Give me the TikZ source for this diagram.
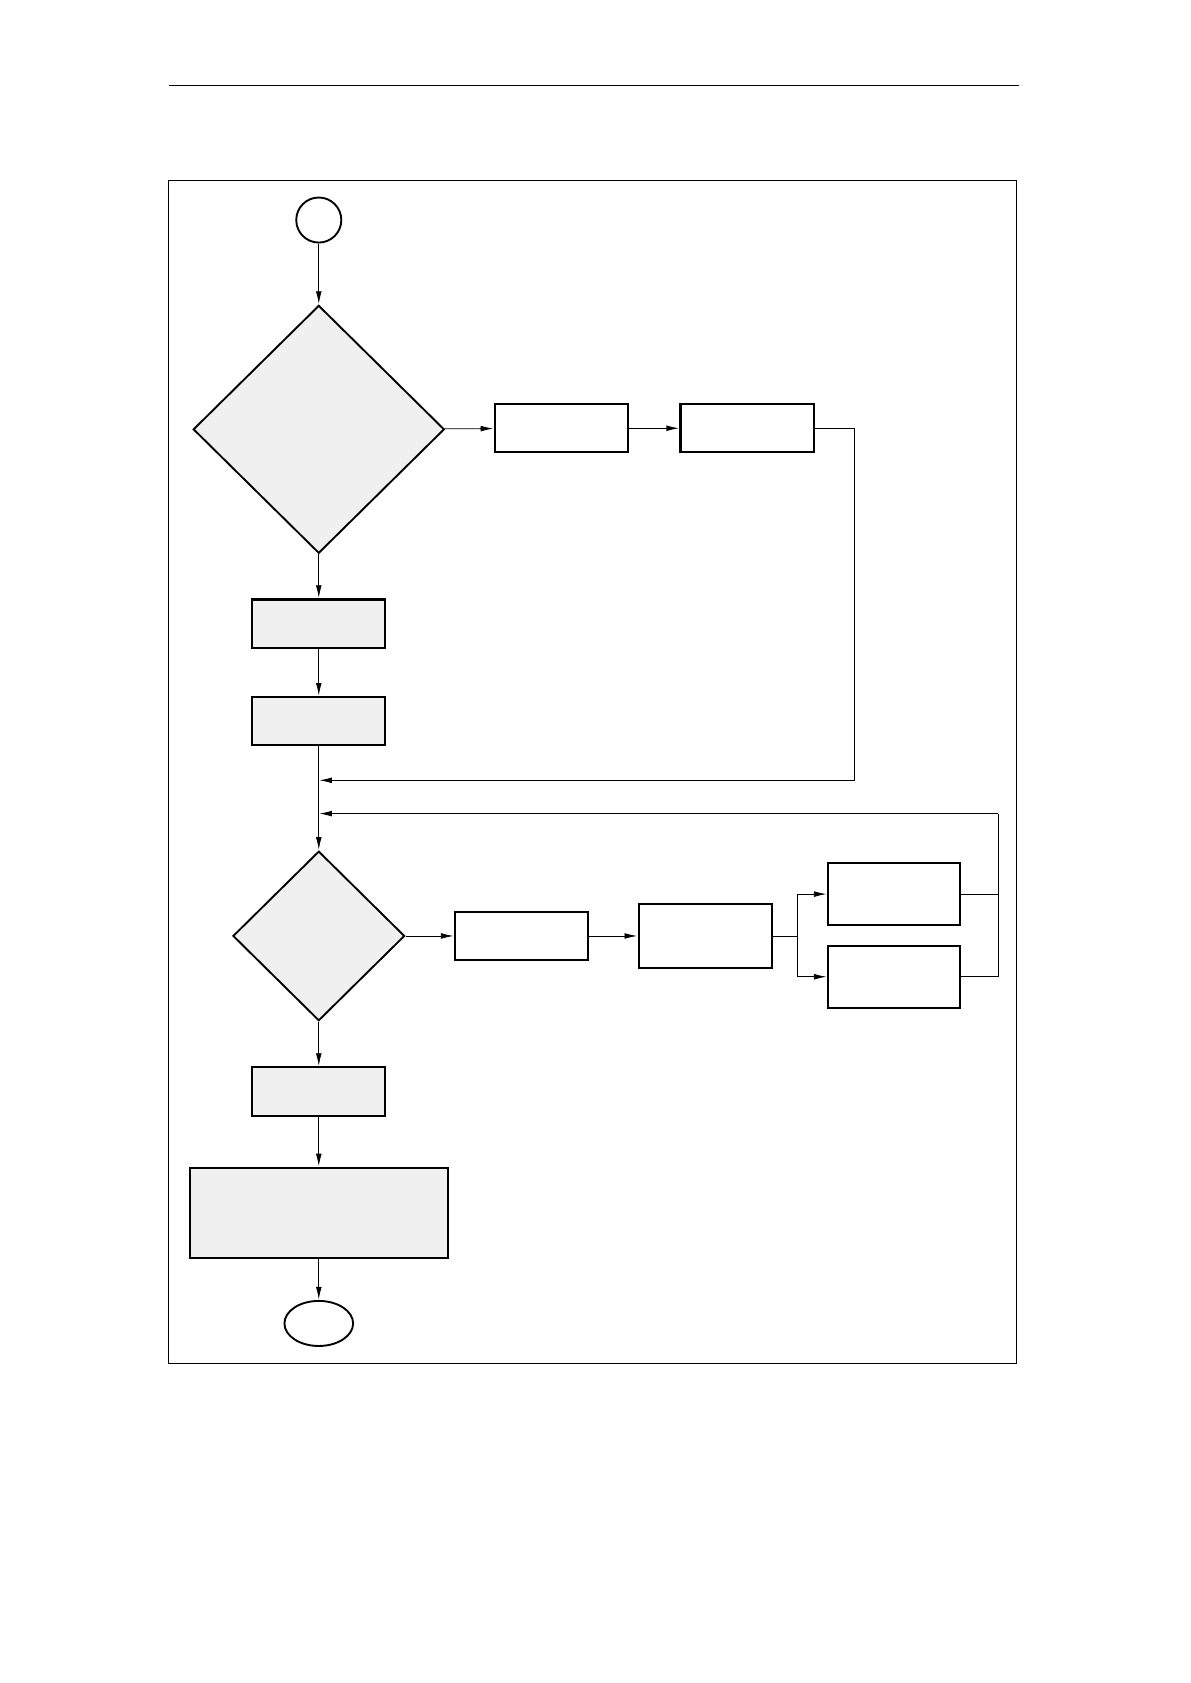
\documentclass[tikz,border=0pt]{standalone}
\usepackage{tikz}
\usetikzlibrary{
  arrows.meta,
  shapes,
  shapes.geometric,
  calc
}
\usepackage{xcolor}
\definecolor{shade}{gray}{0.94}

\begin{document}
\begin{tikzpicture}[x = 0.02cm, y = -0.02cm]
  \tikzset{>={Latex[length=7pt, width=3.2pt]}, line width = 0.5pt,
    procbox/.style = {draw, rectangle, line width = 1.1pt, fill = shade, inner sep = 0pt},
    actbox/.style = {draw, rectangle, line width = 1.1pt, fill = white, inner sep = 0pt},
    decision/.style = {draw, diamond, line width = 1pt, fill = shade, inner sep = 0pt},
    terminal/.style = {draw, ellipse, line width = 1pt, inner sep = 0pt}}
  \useasboundingbox (0,0) rectangle (1109,1568);

  \draw[line width = 0.6pt] (157,80) -- (949,80);
  \draw[line width = 0.6pt] (157,168) rectangle (947,1270);

  \node[terminal, minimum width = 0.84cm, minimum height = 0.84cm] (begin) at (297,205) {};
  \node[decision, minimum width = 4.68cm, minimum height = 4.62cm] (ask) at (297,400) {};
  \node[actbox, minimum width = 2.48cm, minimum height = 0.9cm] (setA) at (523,399) {};
  \node[actbox, minimum width = 2.48cm, minimum height = 0.9cm] (setB) at (696,399) {};
  \node[procbox, minimum width = 2.48cm, minimum height = 0.9cm] (prepA) at (297,581) {};
  \node[procbox, minimum width = 2.48cm, minimum height = 0.9cm] (prepB) at (297,672) {};

  \node[decision, minimum width = 3.2cm, minimum height = 3.16cm] (loopask) at (297,872) {};
  \node[actbox, minimum width = 2.48cm, minimum height = 0.9cm] (stepA) at (486,872) {};
  \node[actbox, minimum width = 2.48cm, minimum height = 1.18cm] (stepB) at (657,872) {};
  \node[actbox, minimum width = 2.46cm, minimum height = 1.16cm] (optA) at (833,833) {};
  \node[actbox, minimum width = 2.46cm, minimum height = 1.16cm] (optB) at (833,910) {};

  \node[procbox, minimum width = 2.48cm, minimum height = 0.9cm] (finA) at (297,1017) {};
  \node[procbox, minimum width = 4.8cm, minimum height = 1.68cm] (finB) at (297,1130) {};
  \node[terminal, minimum width = 1.28cm, minimum height = 0.84cm] (stop) at (297,1233) {};

  \coordinate (m1) at (297,727);
  \coordinate (m2) at (297,758);
  \coordinate (r1) at (796,727);
  \coordinate (r2) at (930,758);
  \coordinate (b) at (743,872);

  \draw[->] (begin) -- (ask);
  \draw[->] (ask) -- (setA);
  \draw[->] (setA) -- (setB);
  \draw[->] (setB.east) -| (r1) -- (m1);
  \draw[->] (ask) -- (prepA);
  \draw[->] (prepA) -- (prepB);
  \draw[->] (prepB) -- (loopask);

  \draw[->] (loopask) -- (stepA);
  \draw[->] (stepA) -- (stepB);
  \draw (stepB.east) -- (b);
  \draw[->] (b) |- (optA.west);
  \draw[->] (b) |- (optB.west);
  \draw (optA.east) -| (r2);
  \draw (optB.east) -| (r2);
  \draw[->] (r2) -- (m2);

  \draw[->] (loopask) -- (finA);
  \draw[->] (finA) -- (finB);
  \draw[->] (finB) -- (stop);
\end{tikzpicture}
\end{document}
